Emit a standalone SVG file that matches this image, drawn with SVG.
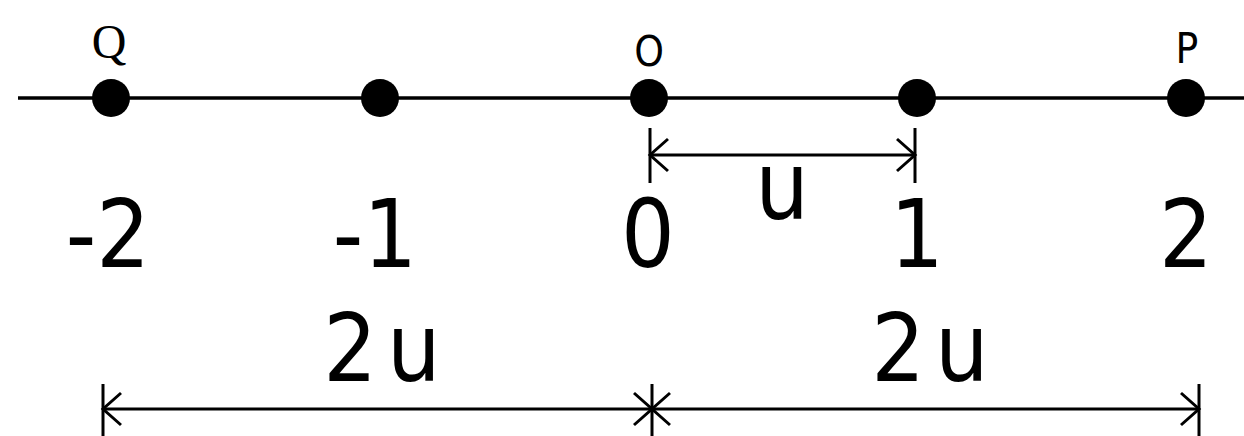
<svg xmlns="http://www.w3.org/2000/svg" width="1244" height="436" viewBox="0 0 1244 436">
<style>
.ln{stroke:#000;stroke-width:3.5;fill:none}
.tk{stroke:#000;stroke-width:3;fill:none}
.dot{fill:#000}
.big{font-family:"DejaVu Sans Condensed","DejaVu Sans",sans-serif;font-stretch:condensed;font-size:94px;fill:#000;text-anchor:middle}
.lbl{font-family:"DejaVu Sans Condensed","DejaVu Sans",sans-serif;font-stretch:condensed;font-size:42px;fill:#000;text-anchor:middle}
.lblq{font-family:"Liberation Serif",serif;font-size:48px;fill:#000;text-anchor:middle}
</style>
<defs>
<marker id="ah" markerUnits="userSpaceOnUse" markerWidth="40" markerHeight="40" viewBox="-20 -20 40 40" refX="0" refY="0" orient="auto-start-reverse">
<path d="M-18,-16 L0,0 L-18,16" stroke="#000" stroke-width="3" fill="none"/>
</marker>
</defs>
<rect width="1244" height="436" fill="#fff"/>
<g id="axis">
<line class="ln" x1="18" y1="98" x2="1244" y2="98"/>
</g>
<g id="Q"><circle class="dot" cx="111" cy="98" r="19"/><text class="lblq" x="109" y="58">Q</text><text class="big" x="108" y="267">-2</text></g>
<g id="m1"><circle class="dot" cx="380" cy="98" r="19"/><text class="big" x="375" y="267">-1</text></g>
<g id="O"><circle class="dot" cx="649" cy="98" r="19"/><text class="lbl" x="649" y="66">O</text><text class="big" x="648" y="267">0</text></g>
<g id="p1"><circle class="dot" cx="917" cy="98" r="19"/><text class="big" x="917" y="267">1</text></g>
<g id="P"><circle class="dot" cx="1186" cy="98" r="19"/><text class="lbl" x="1187" y="63">P</text><text class="big" x="1186" y="267">2</text></g>
<g id="connectors">
<line class="tk" x1="650" y1="128" x2="650" y2="183"/>
<line class="tk" x1="915" y1="128" x2="915" y2="183"/>
<line class="tk" x1="650" y1="155" x2="915" y2="155" marker-start="url(#ah)" marker-end="url(#ah)"/>
<line class="tk" x1="103" y1="384" x2="103" y2="436"/>
<line class="tk" x1="652" y1="384" x2="652" y2="436"/>
<line class="tk" x1="1199" y1="384" x2="1199" y2="436"/>
<line class="tk" x1="103" y1="409" x2="652" y2="409" marker-start="url(#ah)" marker-end="url(#ah)"/>
<line class="tk" x1="652" y1="409" x2="1199" y2="409" marker-start="url(#ah)" marker-end="url(#ah)"/>
</g>
<g id="labels">
<text class="big" x="782" y="219">u</text>
<text class="big" x="382" y="381" word-spacing="-17">2 u</text>
<text class="big" x="930" y="381" word-spacing="-17">2 u</text>
</g>
</svg>
